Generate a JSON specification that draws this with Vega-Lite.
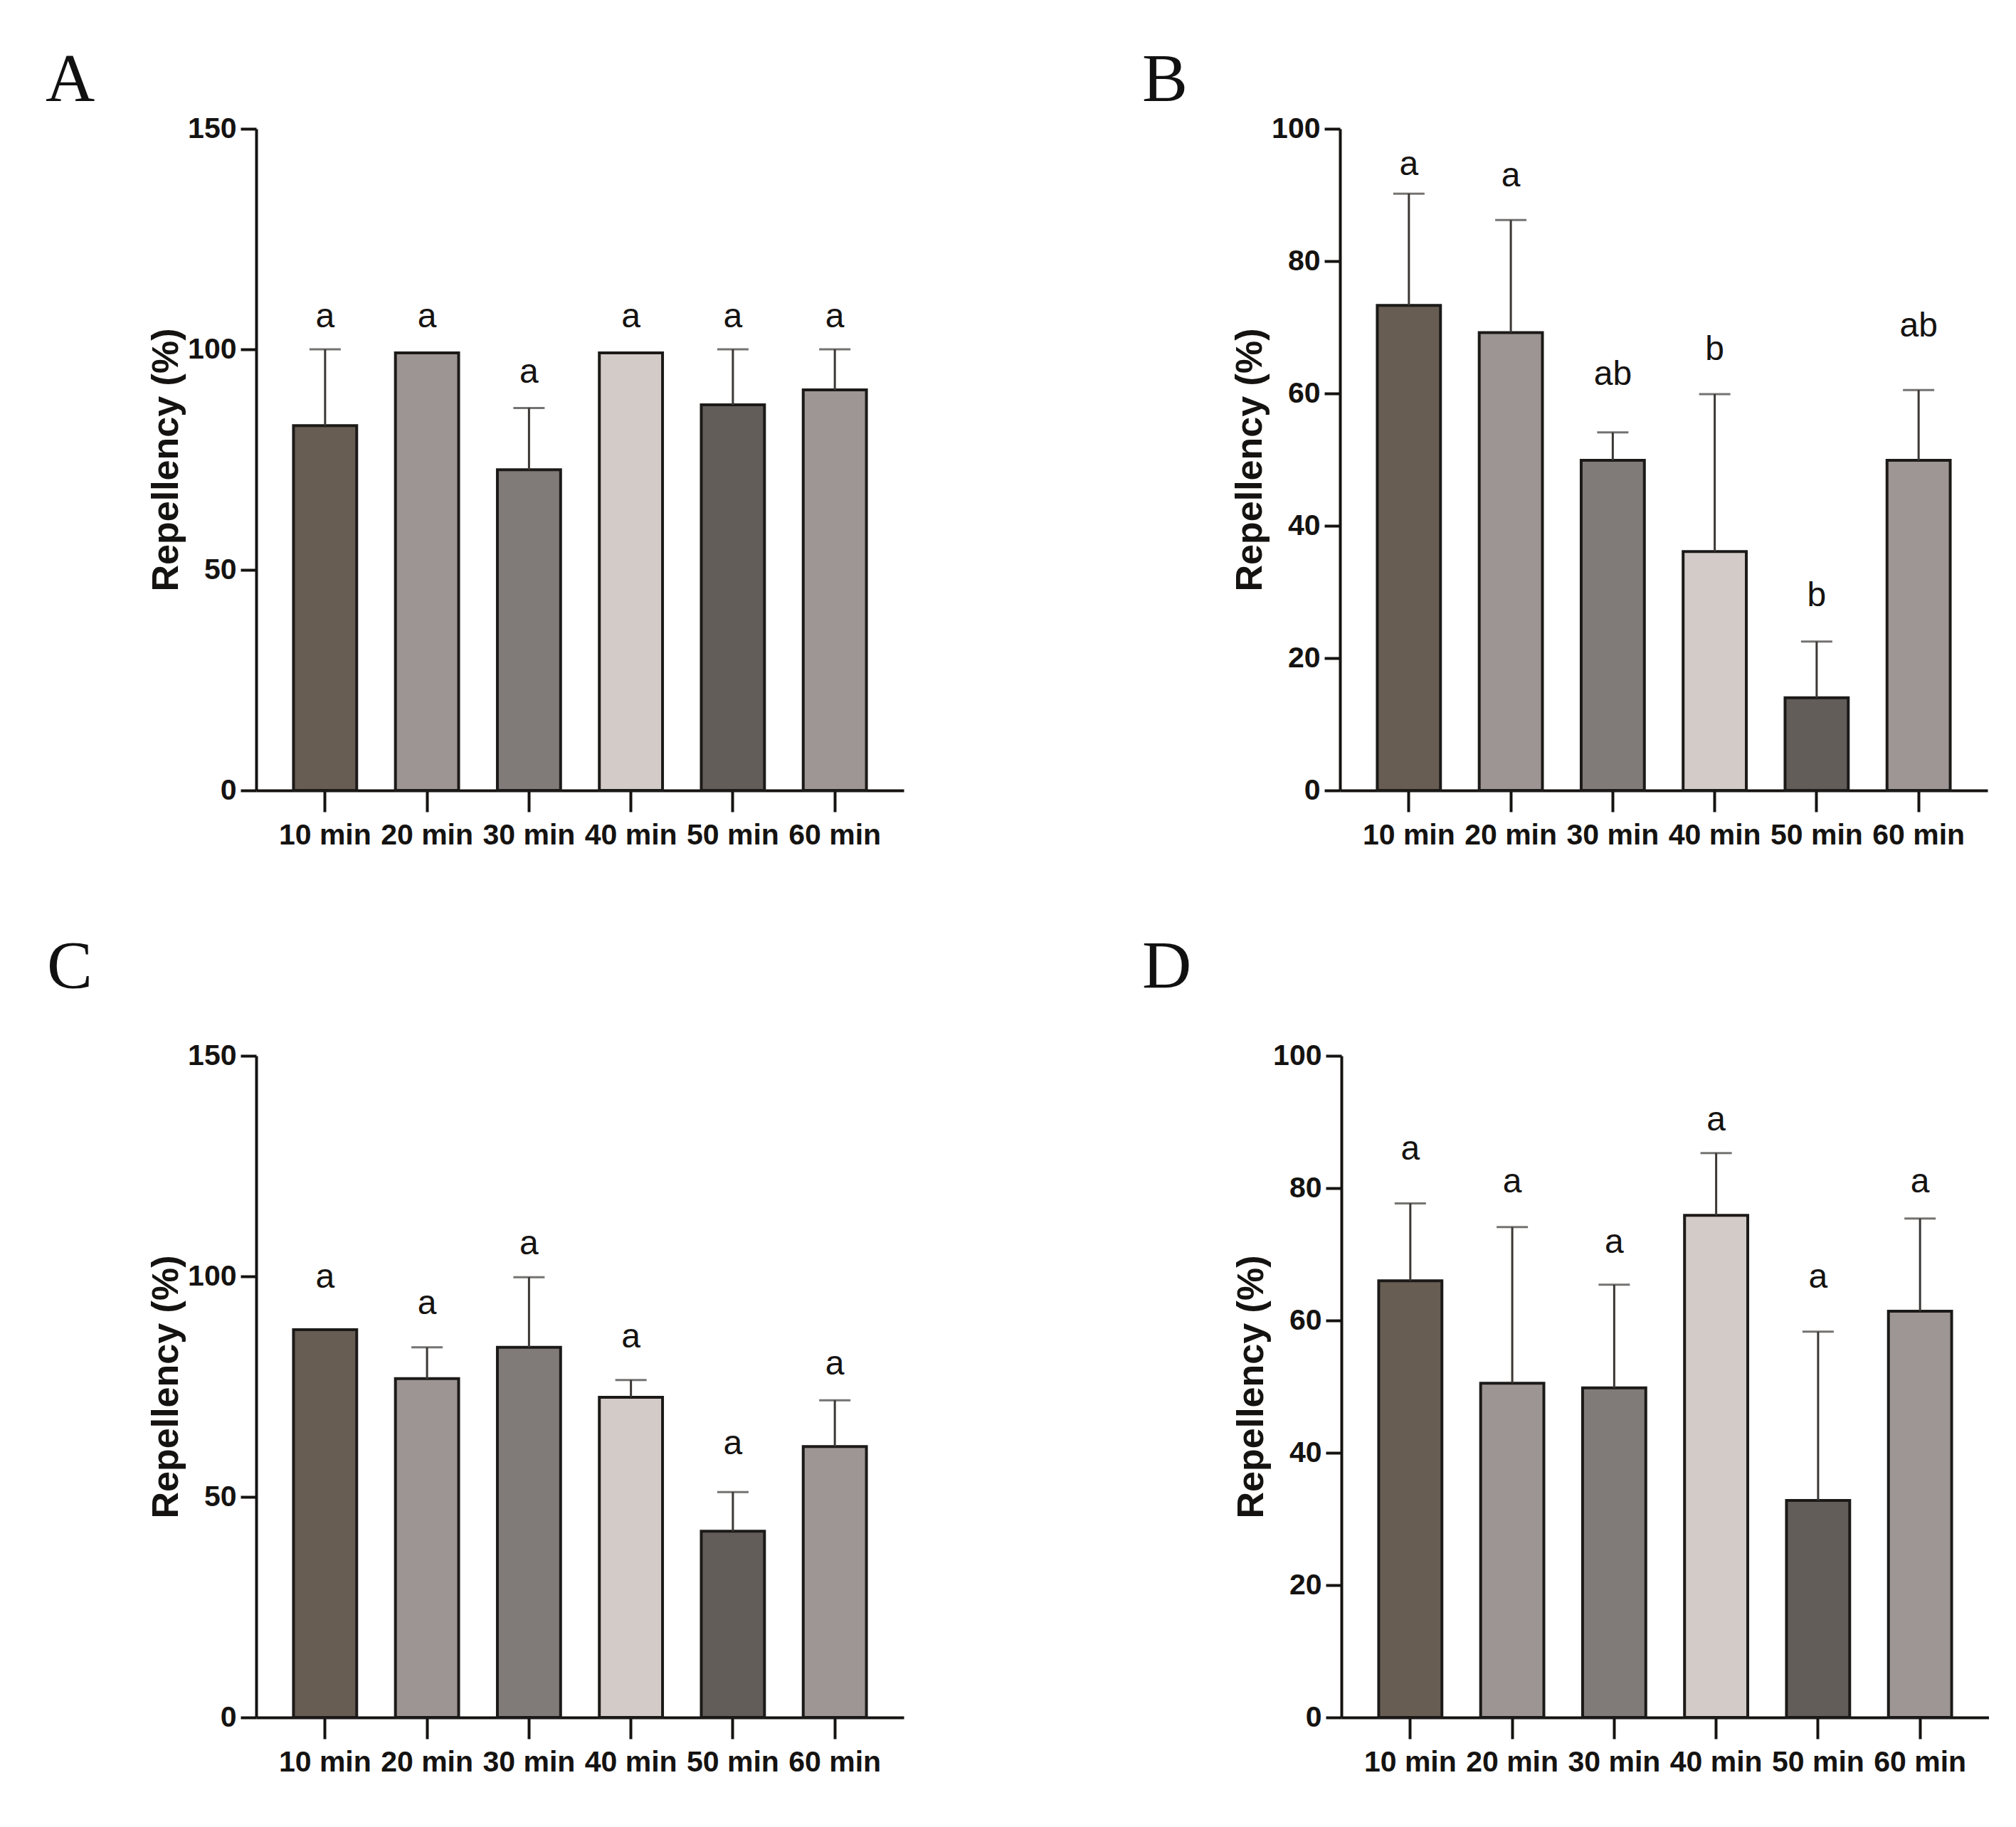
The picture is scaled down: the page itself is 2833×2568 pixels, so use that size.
{
  "$schema": "https://vega.github.io/schema/vega-lite/v6.json",
  "description": "Repellency (%) over time, four panels A-D, bars with upper SD and significance letters.",
  "background": "#ffffff",
  "padding": {"left": 64, "top": 65, "right": 0, "bottom": 0},
  "config": {
    "view": {"stroke": null},
    "concat": {"spacing": 118},
    "axis": {
      "grid": false,
      "domainColor": "#151311",
      "domainWidth": 4,
      "tickColor": "#151311",
      "tickWidth": 4,
      "labelFont": "Liberation Sans",
      "labelFontSize": 41,
      "labelFontWeight": "bold",
      "labelColor": "#151311",
      "labelPadding": 6,
      "titleFont": "Liberation Sans",
      "titleFontSize": 52,
      "titleFontWeight": "bold",
      "titleColor": "#151311"
    },
    "axisX": {"tickSize": 30, "labelAngle": 0, "labelPadding": 13},
    "axisY": {"tickSize": 22, "titleX": -100, "titleY": 465},
    "title": {
      "font": "Liberation Serif",
      "fontSize": 96,
      "fontWeight": "normal",
      "color": "#111111",
      "anchor": "start",
      "frame": "group",
      "baseline": "alphabetic"
    }
  },
  "datasets": {
    "A": [
      {"t": "10 min", "mean": 82.7, "upper": 100, "lab_y": 105, "sig": "a"},
      {"t": "20 min", "mean": 99.2, "upper": null, "lab_y": 105, "sig": "a"},
      {"t": "30 min", "mean": 72.7, "upper": 86.7, "lab_y": 92.5, "sig": "a"},
      {"t": "40 min", "mean": 99.2, "upper": null, "lab_y": 105, "sig": "a"},
      {"t": "50 min", "mean": 87.4, "upper": 100, "lab_y": 105, "sig": "a"},
      {"t": "60 min", "mean": 90.8, "upper": 100, "lab_y": 105, "sig": "a"}
    ],
    "B": [
      {"t": "10 min", "mean": 73.3, "upper": 90.2, "lab_y": 93.0, "sig": "a"},
      {"t": "20 min", "mean": 69.2, "upper": 86.2, "lab_y": 91.3, "sig": "a"},
      {"t": "30 min", "mean": 49.9, "upper": 54.1, "lab_y": 61.3, "sig": "ab"},
      {"t": "40 min", "mean": 36.1, "upper": 59.9, "lab_y": 65.1, "sig": "b"},
      {"t": "50 min", "mean": 14.0, "upper": 22.5, "lab_y": 27.8, "sig": "b"},
      {"t": "60 min", "mean": 49.9, "upper": 60.5, "lab_y": 68.6, "sig": "ab"}
    ],
    "C": [
      {"t": "10 min", "mean": 87.9, "upper": null, "lab_y": 97.4, "sig": "a"},
      {"t": "20 min", "mean": 76.8, "upper": 83.9, "lab_y": 91.4, "sig": "a"},
      {"t": "30 min", "mean": 83.9, "upper": 99.8, "lab_y": 105.0, "sig": "a"},
      {"t": "40 min", "mean": 72.6, "upper": 76.5, "lab_y": 83.9, "sig": "a"},
      {"t": "50 min", "mean": 42.2, "upper": 51.1, "lab_y": 59.6, "sig": "a"},
      {"t": "60 min", "mean": 61.4, "upper": 71.9, "lab_y": 77.7, "sig": "a"}
    ],
    "D": [
      {"t": "10 min", "mean": 66.0, "upper": 77.7, "lab_y": 84.3, "sig": "a"},
      {"t": "20 min", "mean": 50.5, "upper": 74.1, "lab_y": 79.4, "sig": "a"},
      {"t": "30 min", "mean": 49.8, "upper": 65.4, "lab_y": 70.2, "sig": "a"},
      {"t": "40 min", "mean": 75.9, "upper": 85.3, "lab_y": 88.7, "sig": "a"},
      {"t": "50 min", "mean": 32.8, "upper": 58.3, "lab_y": 65.0, "sig": "a"},
      {"t": "60 min", "mean": 61.4, "upper": 75.4, "lab_y": 79.4, "sig": "a"}
    ]
  },
  "vconcat": [
    {
      "hconcat": [
        {
          "title": {"text": "A", "dx": -296, "offset": -2},
          "width": 910,
          "height": 930,
          "data": {"name": "A"},
          "encoding": {
            "x": {"field": "t", "type": "nominal", "title": null, "scale": {"paddingInner": 0.38, "paddingOuter": 0.366}}
          },
          "layer": [
            {
              "mark": {"type": "bar", "stroke": "#1c1a18", "strokeWidth": 4},
              "encoding": {
                "y": {"field": "mean", "type": "quantitative", "title": "Repellency (%)", "scale": {"domain": [0, 150], "nice": false}, "axis": {"values": [0, 50, 100, 150]}},
                "color": {"field": "t", "type": "nominal", "legend": null, "scale": {"domain": ["10 min", "20 min", "30 min", "40 min", "50 min", "60 min"], "range": ["#675d53", "#9c9593", "#807a78", "#d2cbc7", "#635d5a", "#9d9695"]}}
              }
            },
            {
              "transform": [{"filter": "isValid(datum.upper)"}],
              "mark": {"type": "rule", "color": "#3b3735", "strokeWidth": 3},
              "encoding": {
                "y": {"field": "mean", "type": "quantitative", "title": "Repellency (%)", "scale": {"domain": [0, 150], "nice": false}},
                "y2": {"field": "upper"}
              }
            },
            {
              "transform": [{"filter": "isValid(datum.upper)"}],
              "mark": {"type": "tick", "color": "#3b3735", "thickness": 3, "size": 44},
              "encoding": {
                "y": {"field": "upper", "type": "quantitative", "title": "Repellency (%)", "scale": {"domain": [0, 150], "nice": false}}
              }
            },
            {
              "mark": {"type": "text", "baseline": "alphabetic", "font": "Liberation Sans", "fontSize": 48, "color": "#151311"},
              "encoding": {
                "y": {"field": "lab_y", "type": "quantitative", "title": "Repellency (%)", "scale": {"domain": [0, 150], "nice": false}},
                "text": {"field": "sig"}
              }
            }
          ]
        },
        {
          "title": {"text": "B", "dx": -278, "offset": -2},
          "width": 910,
          "height": 930,
          "data": {"name": "B"},
          "encoding": {
            "x": {"field": "t", "type": "nominal", "title": null, "scale": {"paddingInner": 0.38, "paddingOuter": 0.366}}
          },
          "layer": [
            {
              "mark": {"type": "bar", "stroke": "#1c1a18", "strokeWidth": 4},
              "encoding": {
                "y": {"field": "mean", "type": "quantitative", "title": "Repellency (%)", "scale": {"domain": [0, 100], "nice": false}, "axis": {"values": [0, 20, 40, 60, 80, 100]}},
                "color": {"field": "t", "type": "nominal", "legend": null, "scale": {"domain": ["10 min", "20 min", "30 min", "40 min", "50 min", "60 min"], "range": ["#675d53", "#9c9593", "#807a78", "#d2cbc7", "#635d5a", "#9d9695"]}}
              }
            },
            {
              "transform": [{"filter": "isValid(datum.upper)"}],
              "mark": {"type": "rule", "color": "#3b3735", "strokeWidth": 3},
              "encoding": {
                "y": {"field": "mean", "type": "quantitative", "title": "Repellency (%)", "scale": {"domain": [0, 100], "nice": false}},
                "y2": {"field": "upper"}
              }
            },
            {
              "transform": [{"filter": "isValid(datum.upper)"}],
              "mark": {"type": "tick", "color": "#3b3735", "thickness": 3, "size": 44},
              "encoding": {
                "y": {"field": "upper", "type": "quantitative", "title": "Repellency (%)", "scale": {"domain": [0, 100], "nice": false}}
              }
            },
            {
              "mark": {"type": "text", "baseline": "alphabetic", "font": "Liberation Sans", "fontSize": 48, "color": "#151311"},
              "encoding": {
                "y": {"field": "lab_y", "type": "quantitative", "title": "Repellency (%)", "scale": {"domain": [0, 100], "nice": false}},
                "text": {"field": "sig"}
              }
            }
          ]
        }
      ],
      "spacing": 335
    },
    {
      "hconcat": [
        {
          "title": {"text": "C", "dx": -294, "offset": 54},
          "width": 910,
          "height": 930,
          "data": {"name": "C"},
          "encoding": {
            "x": {"field": "t", "type": "nominal", "title": null, "scale": {"paddingInner": 0.38, "paddingOuter": 0.366}}
          },
          "layer": [
            {
              "mark": {"type": "bar", "stroke": "#1c1a18", "strokeWidth": 4},
              "encoding": {
                "y": {"field": "mean", "type": "quantitative", "title": "Repellency (%)", "scale": {"domain": [0, 150], "nice": false}, "axis": {"values": [0, 50, 100, 150]}},
                "color": {"field": "t", "type": "nominal", "legend": null, "scale": {"domain": ["10 min", "20 min", "30 min", "40 min", "50 min", "60 min"], "range": ["#675d53", "#9c9593", "#807a78", "#d2cbc7", "#635d5a", "#9d9695"]}}
              }
            },
            {
              "transform": [{"filter": "isValid(datum.upper)"}],
              "mark": {"type": "rule", "color": "#3b3735", "strokeWidth": 3},
              "encoding": {
                "y": {"field": "mean", "type": "quantitative", "title": "Repellency (%)", "scale": {"domain": [0, 150], "nice": false}},
                "y2": {"field": "upper"}
              }
            },
            {
              "transform": [{"filter": "isValid(datum.upper)"}],
              "mark": {"type": "tick", "color": "#3b3735", "thickness": 3, "size": 44},
              "encoding": {
                "y": {"field": "upper", "type": "quantitative", "title": "Repellency (%)", "scale": {"domain": [0, 150], "nice": false}}
              }
            },
            {
              "mark": {"type": "text", "baseline": "alphabetic", "font": "Liberation Sans", "fontSize": 48, "color": "#151311"},
              "encoding": {
                "y": {"field": "lab_y", "type": "quantitative", "title": "Repellency (%)", "scale": {"domain": [0, 150], "nice": false}},
                "text": {"field": "sig"}
              }
            }
          ]
        },
        {
          "title": {"text": "D", "dx": -280, "offset": 54},
          "width": 910,
          "height": 930,
          "data": {"name": "D"},
          "encoding": {
            "x": {"field": "t", "type": "nominal", "title": null, "scale": {"paddingInner": 0.38, "paddingOuter": 0.366}}
          },
          "layer": [
            {
              "mark": {"type": "bar", "stroke": "#1c1a18", "strokeWidth": 4},
              "encoding": {
                "y": {"field": "mean", "type": "quantitative", "title": "Repellency (%)", "scale": {"domain": [0, 100], "nice": false}, "axis": {"values": [0, 20, 40, 60, 80, 100]}},
                "color": {"field": "t", "type": "nominal", "legend": null, "scale": {"domain": ["10 min", "20 min", "30 min", "40 min", "50 min", "60 min"], "range": ["#675d53", "#9c9593", "#807a78", "#d2cbc7", "#635d5a", "#9d9695"]}}
              }
            },
            {
              "transform": [{"filter": "isValid(datum.upper)"}],
              "mark": {"type": "rule", "color": "#3b3735", "strokeWidth": 3},
              "encoding": {
                "y": {"field": "mean", "type": "quantitative", "title": "Repellency (%)", "scale": {"domain": [0, 100], "nice": false}},
                "y2": {"field": "upper"}
              }
            },
            {
              "transform": [{"filter": "isValid(datum.upper)"}],
              "mark": {"type": "tick", "color": "#3b3735", "thickness": 3, "size": 44},
              "encoding": {
                "y": {"field": "upper", "type": "quantitative", "title": "Repellency (%)", "scale": {"domain": [0, 100], "nice": false}}
              }
            },
            {
              "mark": {"type": "text", "baseline": "alphabetic", "font": "Liberation Sans", "fontSize": 48, "color": "#151311"},
              "encoding": {
                "y": {"field": "lab_y", "type": "quantitative", "title": "Repellency (%)", "scale": {"domain": [0, 100], "nice": false}},
                "text": {"field": "sig"}
              }
            }
          ]
        }
      ],
      "spacing": 335
    }
  ]
}
